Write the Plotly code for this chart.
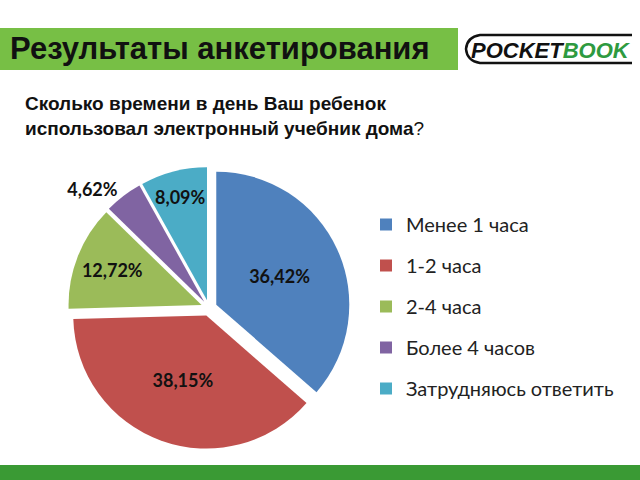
import plotly.graph_objects as go

# ---- data ----
categories = ["Менее 1 часа", "1-2 часа", "2-4 часа", "Более 4 часов", "Затрудняюсь ответить"]
values = [36.42, 38.15, 12.72, 4.62, 8.09]
colors = ["#4f81bd", "#c0504d", "#9bbb59", "#8064a2", "#4bacc6"]
label_pos = ["inside", "inside", "inside", "outside", "inside"]

title_text = "Результаты анкетирования"
question_text = "<b>Сколько времени в день Ваш ребенок<br>использовал электронный учебник дома</b>?"

W, H = 640, 480

labels_txt = ["<b>" + f"{v:.2f}".replace(".", ",") + "%</b>" for v in values]

fig = go.Figure()

fig.add_trace(go.Pie(
    labels=categories, values=values, text=labels_txt, textinfo="text",
    textposition=label_pos, insidetextorientation="horizontal",
    marker=dict(colors=colors, line=dict(width=0)),
    sort=False, direction="clockwise", rotation=0,
    pull=[0.06] * len(values),
    textfont=dict(family="Lato", size=18, color="#111111"),
    outsidetextfont=dict(family="Lato", size=18, color="#111111"),
    domain=dict(x=[68 / W, 350 / W], y=[1 - 449 / H, 1 - 167 / H]),
    showlegend=False, hoverinfo="skip",
))

# legend entries (one per category)
for c, col in zip(categories, colors):
    fig.add_trace(go.Scatter(
        x=[None], y=[None], mode="markers", name=c, legendgroup=c,
        marker=dict(symbol="square", size=12, color=col),
        showlegend=True,
    ))

shapes = [
    # title box
    dict(type="rect", xref="x", yref="y", x0=0, x1=458, y0=28, y1=70,
         fillcolor="#77bf45", line=dict(width=0), layer="below"),
    # bottom bar
    dict(type="rect", xref="x", yref="y", x0=0, x1=640, y0=465, y1=480,
         fillcolor="#3a9a34", line=dict(width=0), layer="below"),
    # logo outline
    dict(type="path", xref="x", yref="y",
         path="M 632,35 L 480,35 Q 467,37 466,49 Q 467,61 480,63 L 632,63",
         line=dict(color="#111111", width=2.5)),
]

annotations = [
    dict(text="<b>" + title_text + "</b>", xref="x", yref="y", x=8, y=48,
         xanchor="left", yanchor="middle", showarrow=False,
         font=dict(family="Liberation Sans", size=31, color="#111111")),
    dict(text="<b><i>POCKET<span style='color:#2e9a40'>BOOK</span></i></b>",
         xref="x", yref="y", x=469, y=50, xanchor="left", yanchor="middle",
         showarrow=False, font=dict(family="Liberation Sans", size=22, color="#111111")),
    dict(text=question_text, xref="x", yref="y", x=23, y=116,
         xanchor="left", yanchor="middle", align="left", showarrow=False,
         font=dict(family="Liberation Sans", size=19, color="#111111")),
]

fig.update_layout(
    width=W, height=H, margin=dict(l=0, r=0, t=0, b=0),
    paper_bgcolor="white", plot_bgcolor="white",
    xaxis=dict(range=[0, W], visible=False, fixedrange=True, domain=[0, 1]),
    yaxis=dict(range=[H, 0], visible=False, fixedrange=True, domain=[0, 1]),
    shapes=shapes, annotations=annotations,
    uniformtext=dict(minsize=18, mode="show"),
    legend=dict(x=366 / W, y=1 - 205 / H, xanchor="left", yanchor="top",
                font=dict(family="Lato", size=20, color="#222222"),
                tracegroupgap=12, bgcolor="rgba(0,0,0,0)", itemclick=False),
    showlegend=True,
)

fig.write_html("out.html")
